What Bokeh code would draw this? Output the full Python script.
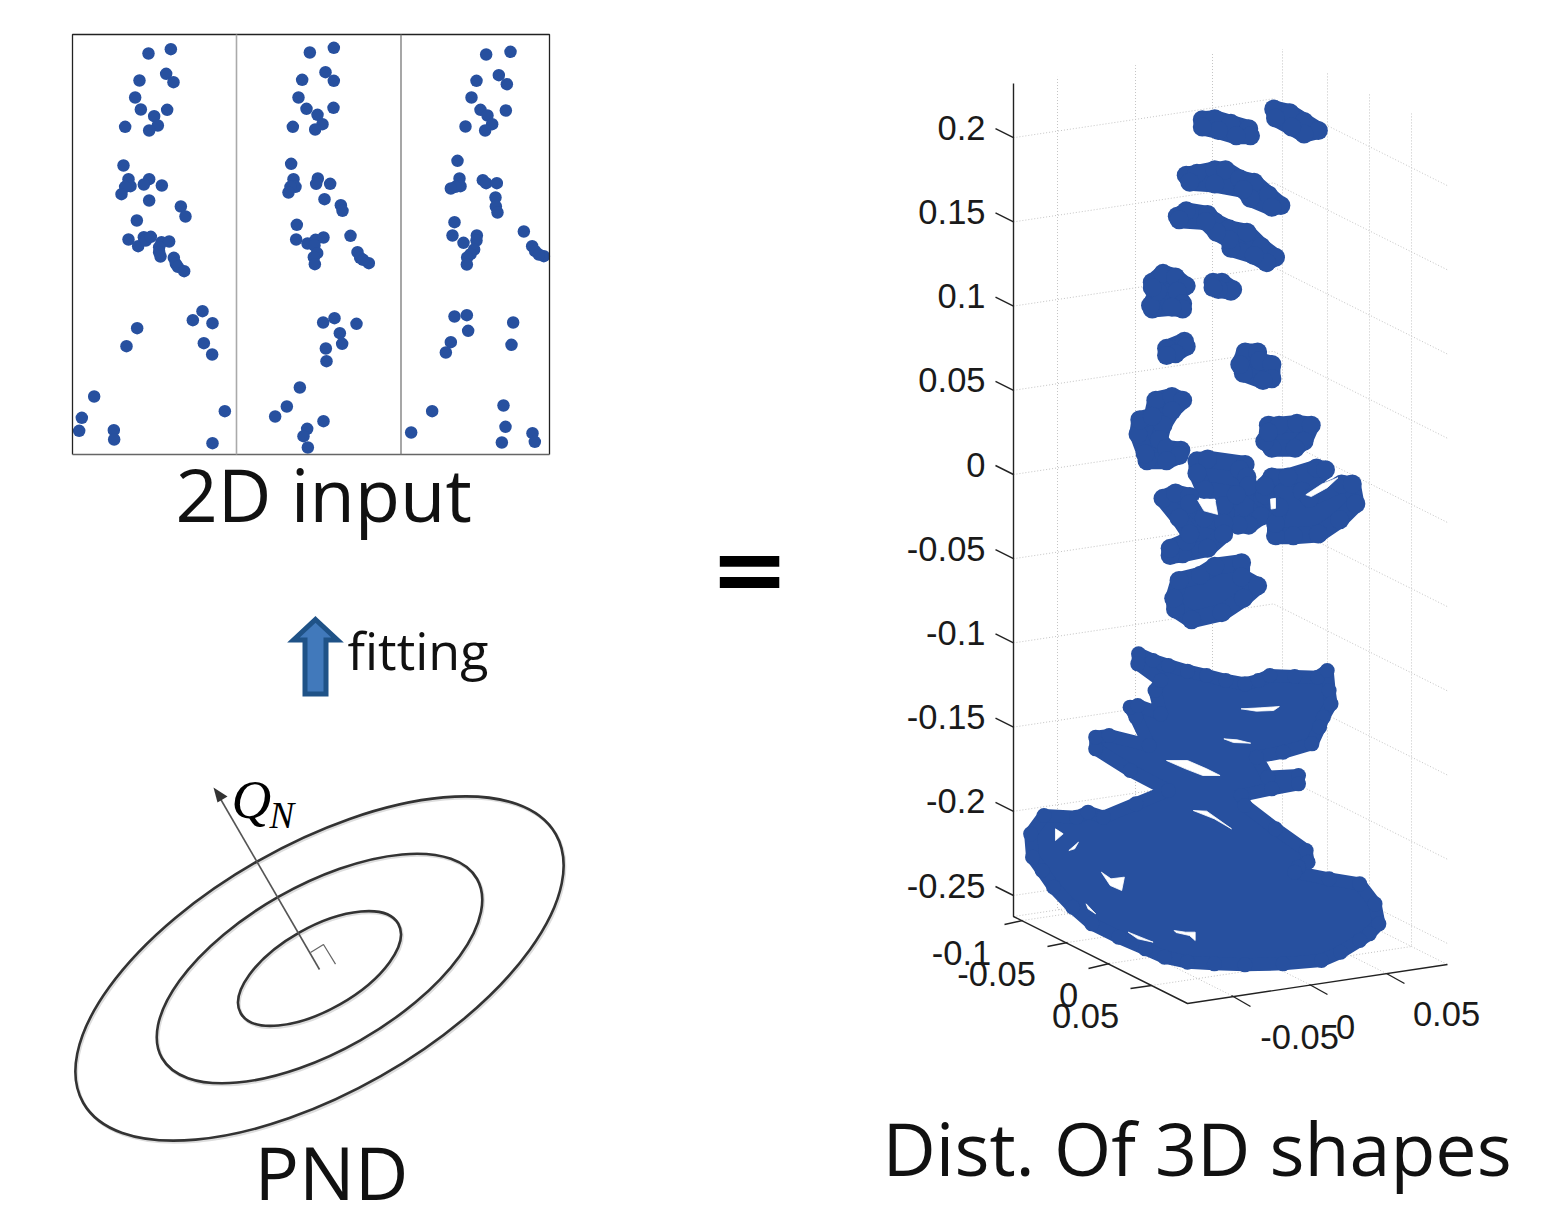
import numpy as np
from bokeh.plotting import figure
from bokeh.embed import file_html
from bokeh.resources import INLINE
from bokeh.core.properties import value

BLUE = "#27509F"

# 2D input: three views, points read in crop units
view_pts = [
 [(264,84),(331,71),(317,145),(339,170),(237,165),(224,216),(241,252),(320,253),(281,272),(292,300),(266,315),(194,304),
  (189,420),(204,461),(210,482),(194,484),(183,506),(266,461),(250,477),(304,480),(266,525),(361,543),(375,573),(229,585),
  (204,642),(233,662),(250,635),(256,645),(271,634),(303,650),(326,648),(296,665),(296,680),(300,693),(340,697),(346,715),(352,724),(371,737),
  (426,857),(397,884),(456,893),(230,908),(198,962),(430,953),(455,987),
  (101,1113),(64,1177),(56,1216),(160,1214),(161,1242),(493,1157),(456,1253)],
 [(748,81),(820,67),(795,140),(820,166),(725,163),(714,216),(738,250),(819,247),(771,268),(786,296),(764,312),(697,304),
  (692,415),(699,461),(705,484),(690,484),(684,501),(772,459),(767,475),(809,475),(792,521),(841,539),(846,556),(709,598),
  (707,642),(741,654),(765,643),(789,636),(762,660),(770,683),(760,695),(763,716),(870,631),(891,680),(899,697),(925,713),(908,703),
  (822,878),(788,891),(888,895),(838,923),(845,955),(796,969),(798,1007),
  (718,1086),(679,1143),(644,1173),(740,1210),(729,1232),(742,1266),(789,1187)],
 [(1277,87),(1350,79),(1315,149),(1339,176),(1248,166),(1233,216),(1260,253),(1336,255),(1281,270),(1295,296),(1274,315),(1215,303),
  (1191,406),(1197,459),(1200,482),(1185,484),(1171,489),(1267,464),(1277,473),(1309,473),(1305,516),(1306,543),(1311,561),(1182,590),
  (1176,630),(1209,652),(1249,630),(1248,645),(1241,672),(1230,686),(1220,696),(1219,717),(1390,618),(1415,662),(1424,677),(1450,692),(1435,687),
  (1182,873),(1219,869),(1358,891),(1223,916),(1171,950),(1156,981),(1353,958),
  (1115,1157),(1052,1221),(1329,1140),(1335,1204),(1324,1251),(1416,1223),(1423,1249)],
]

# 3D cloud, upper part: outlines read in crop units
upper_blobs = [
 [(1045,80),(1090,90),(1130,115),(1170,140),(1130,150),(1095,130),(1050,105)],
 [(845,110),(880,107),(925,120),(975,135),(980,155),(940,155),(890,140),(845,130)],
 [(800,265),(830,260),(880,250),(910,250),(950,275),(990,285),(1030,320),(1065,350),(1040,355),(980,330),(960,305),(880,290),(810,285)],
 [(775,380),(800,365),(860,375),(880,395),(920,415),(970,425),(1010,465),(1050,495),(1025,510),(990,490),(925,470),(920,445),(885,425),(855,395),(780,390)],
 [(705,565),(735,540),(770,550),(800,575),(775,590),(790,625),(790,640),(760,635),(705,640),(700,630),(720,590),(705,580)],
 [(875,565),(900,565),(930,585),(925,590),(890,585),(875,580)],
 [(745,750),(795,730),(800,745),(770,765),(745,770)],
 [(965,760),(1000,760),(1005,785),(1040,795),(1040,835),(1015,840),(960,820),(950,795)],
 [(715,895),(760,885),(790,895),(760,925),(735,965),(725,1005),(745,1030),(785,1035),(780,1050),(745,1065),(690,1065),(685,1045),(665,990),(670,950),(705,940)],
 [(1030,965),(1060,965),(1110,960),(1150,965),(1130,1010),(1105,1030),(1040,1030),(1020,1010),(1030,985)],
 [(830,1065),(860,1060),(965,1075),(950,1090),(970,1110),(975,1135),(1015,1170),(1010,1220),(975,1245),(945,1245),(910,1210),(905,1190),(940,1160),(850,1145),(830,1100)],
 [(735,1170),(770,1155),(810,1165),(810,1185),(850,1225),(905,1240),(905,1270),(860,1310),(790,1325),(755,1330),(755,1310),(800,1290),(810,1270),(780,1225)],
 [(1040,1110),(1085,1110),(1165,1085),(1190,1090),(1125,1150),(1145,1170),(1235,1130),(1265,1130),(1275,1185),(1230,1230),(1170,1270),(1100,1275),(1050,1275),(1050,1240),(1060,1195),(1020,1160),(1020,1135)],
 [(780,1400),(840,1385),(880,1360),(955,1350),(955,1390),(1000,1415),(960,1450),(900,1490),(815,1510),(770,1480),(765,1450)],
]
upper_holes = [
 [(832,1175),(880,1172),(888,1215),(850,1205)],
 [(1036,1172),(1050,1170),(1050,1198),(1038,1200)],
 [(1135,1160),(1180,1130),(1225,1112),(1195,1140),(1150,1165)],
]
# 3D cloud, lower part
lower_blob = [(622,100),(660,120),(700,135),(750,152),(800,165),(850,180),(900,190),(935,180),(965,165),(1030,168),(1090,170),(1115,150),(1120,210),(1125,250),(1105,290),(1095,320),(1075,370),(1000,395),(930,410),(960,470),(1040,465),(1040,490),(970,505),(890,525),(900,555),(980,625),(1060,690),(1065,725),(1040,740),(1030,755),(1120,775),(1200,790),(1240,850),(1250,910),(1225,940),(1200,960),(1150,995),(1100,1020),(1000,1030),(900,1033),(820,1030),(750,1025),(690,1010),(640,985),(570,950),(500,910),(450,860),(400,800),(370,750),(345,710),(340,640),(375,585),(460,590),(490,575),(530,590),(615,550),(700,510),(600,450),(510,385),(510,350),(545,345),(650,375),(615,290),(600,260),(620,255),(680,280),(665,210),(680,180),(620,130)]
lower_holes = [
 [(890,265),(940,262),(990,258),(975,270),(930,272)],
 [(845,355),(880,358),(915,368),(870,366)],
 [(695,420),(750,420),(800,445),(835,465),(790,465),(745,445)],
 [(765,570),(800,572),(865,625),(820,595)],
 [(405,625),(425,640),(405,660)],
 [(525,755),(550,775),(585,770),(578,810),(548,795)],
 [(440,690),(465,665),(455,685)],
 [(485,850),(510,880),(490,865)],
 [(595,935),(660,965),(620,955)],
 [(715,930),(745,935),(770,935),(770,960),(755,945),(720,936)],
]

z_ticks = [0.2, 0.15, 0.1, 0.05, 0, -0.05, -0.1, -0.15, -0.2, -0.25]
z_labels = ["0.2", "0.15", "0.1", "0.05", "0", "-0.05", "-0.1", "-0.15", "-0.2", "-0.25"]

ring_scale = [1, 2, 3]

def crop1(pts):
    a = np.array(pts, float)
    return 60 + a[:, 0] / 3, 25 + a[:, 1] / 3
def crop2(pts):
    a = np.array(pts, float)
    return 900 + a[:, 0] / 2.8, 80 + a[:, 1] / 2.8
def crop3(pts):
    a = np.array(pts, float)
    return 900 + a[:, 0] / 2.613, 620 + a[:, 1] / 3

W, H = 1553, 1211
p = figure(width=W, height=H, x_range=(0, W), y_range=(H, 0),
           output_backend="svg", toolbar_location=None, min_border=0)
p.axis.visible = False
p.grid.visible = False
p.outline_line_color = None

# ---- 2D input
for pts in view_pts:
    x, y = crop1(pts)
    p.scatter(x, y, size=12.5, color=BLUE, line_color=None)
p.line([72, 72, 549, 549], [454, 34, 34, 454], line_color="#222222", line_width=1.3)
p.line([72, 549], [454, 454], line_color="#666666", line_width=1.5)
p.line([236, 236], [34, 454], line_color="#aaaaaa", line_width=1.6)
p.line([400.5, 400.5], [34, 454], line_color="#777777", line_width=1.3)

def label(x, y, t, size, font="Open Sans", align="left", base="middle", style="normal", color="#111111"):
    p.text([x], [y], text=[t], text_font=value(font), text_font_size=f"{size}px",
           text_align=align, text_baseline=base, text_font_style=style, text_color=color)

label(175, 493, "2D  input", 74)
label(347, 649, "fitting", 52)
label(254, 1171, "PND", 74)
label(882, 1147, "Dist.  Of  3D  shapes", 73.5)
label(749, 568, "=", 95, font="DejaVu Sans", align="center", style="bold", color="#000000")

# ---- arrow
p.patch([315, 337, 325.5, 325.5, 304.5, 304.5, 293],
        [619, 639.5, 639.5, 693.5, 693.5, 639.5, 639.5],
        fill_color="#4179BB", line_color="#1F5287", line_width=5, line_join="miter")

# ---- ellipses
cx, cy = 319, 968
for k in ring_scale:
    p.ellipse([cx + 1.2], [cy + 1.6], width=2 * 90.6 * k, height=2 * 41.3 * k, angle=np.radians(29.6),
              fill_color=None, line_color="#dddddd", line_width=3)
for k in ring_scale:
    p.ellipse([cx], [cy], width=2 * 90.6 * k, height=2 * 41.3 * k, angle=np.radians(29.6),
              fill_color=None, line_color="#333333", line_width=2.6)
p.line([319, 218], [969, 795], line_color="#555555", line_width=1.6)
p.patch([213, 227, 217], [787, 796, 802], fill_color="#333333", line_color=None)
p.line([310, 323, 335], [952, 944, 963.6], line_color="#666666", line_width=1.2)
label(231, 799, "Q", 55, font="Liberation Serif", style="italic", color="#000000")
label(269, 815, "N", 37, font="Liberation Serif", style="italic", color="#000000")

# ---- 3D box
A = np.array([1013., 916.]); B = np.array([1187., 1003.]); C = np.array([1447., 964.])
D = A + C - B
TOP = 83.
def tick_y(z):
    return 474 - z / 0.05 * 84.2
grid_kw = dict(line_color="#c4c4c4", line_width=1, line_dash="1 2")
for z in z_ticks:
    y = tick_y(z)
    p.line([A[0], D[0], C[0]], [y, y - (A[1] - D[1]), y - (A[1] - D[1]) + (C[1] - D[1])], **grid_kw)
left_ticks = np.array([[1022, 920, 1004, 924], [1067, 942, 1047, 946], [1109, 963, 1088, 968], [1151, 985, 1130, 988]], float)
right_ticks = np.array([[1231, 995, 1250, 1006], [1309, 984, 1327, 994], [1386, 973, 1404, 983]], float)
for t in left_ticks:
    s = t[:2]; e = s + (C - B)
    p.line([s[0], e[0], e[0]], [s[1], e[1], TOP - (A[1] - D[1]) + (C[1] - D[1]) * (e[0] - D[0]) / (C[0] - D[0])], **grid_kw)
for t in right_ticks:
    s = t[:2]; e = s + (A - B)
    p.line([s[0], e[0], e[0]], [s[1], e[1], TOP - (A[1] - D[1]) * (e[0] - A[0]) / (D[0] - A[0])], **grid_kw)
p.line([A[0], D[0], C[0]], [A[1], D[1], C[1]], **grid_kw)

axis_kw = dict(line_color="#222222", line_width=1.4)
p.line([A[0], A[0], B[0], C[0]], [TOP, A[1], B[1], C[1]], **axis_kw)
for z, t in zip(z_ticks, z_labels):
    y = tick_y(z)
    p.line([995, 1013], [y - 9, y], **axis_kw)
    label(985, y - 10, t, 34.5, font="Liberation Sans", align="right", color="#1a1a1a")
for t in np.vstack([left_ticks, right_ticks]):
    p.line([t[0], t[2]], [t[1], t[3]], **axis_kw)
for x, y, t in [(961, 952, "-0.1"), (996, 973, "-0.05"), (1068, 994, "0"), (1085, 1015, "0.05"),
                (1299, 1036, "-0.05"), (1345, 1026, "0"), (1446, 1013, "0.05")]:
    label(x, y, t, 34.5, font="Liberation Sans", align="center", color="#1a1a1a")

# ---- 3D cloud
for blob in upper_blobs:
    x, y = crop2(blob)
    p.patch(x, y, fill_color=BLUE, line_color=BLUE, line_width=17, line_join="round")
    p.scatter(x, y, size=19, color=BLUE, line_color=None)
x, y = crop3(lower_blob)
p.patch(x, y, fill_color=BLUE, line_color=BLUE, line_width=13, line_join="round")
p.scatter(x, y, size=15, color=BLUE, line_color=None)
for hole in upper_holes:
    x, y = crop2(hole)
    p.patch(x, y, fill_color="white", line_color="white", line_width=0.8)
for hole in lower_holes:
    x, y = crop3(hole)
    p.patch(x, y, fill_color="white", line_color="white", line_width=0.8)

open("out.html", "w").write(file_html(p, INLINE))
